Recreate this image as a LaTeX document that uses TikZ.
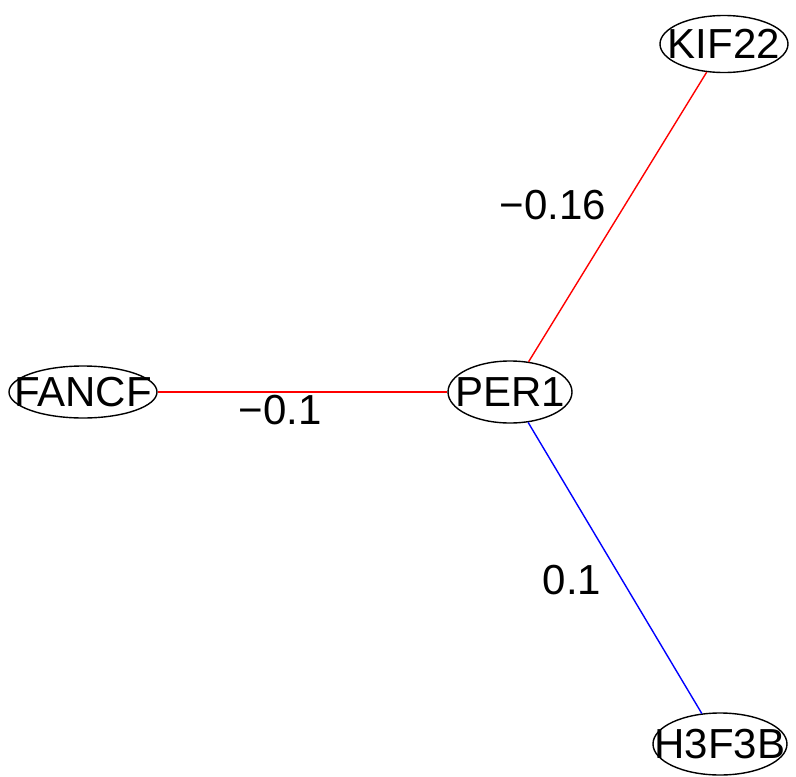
\documentclass[tikz,border=0pt]{standalone}
\usepackage{fontspec}
\setmainfont{Liberation Sans}
\usetikzlibrary{shapes.geometric}
\begin{document}
\begin{tikzpicture}[x=1pt,y=-1pt,
  gene/.style={draw,ellipse,line width=1.4pt,inner sep=0pt,minimum width=#1},
  lbl/.style={font=\fontsize{42}{42}\selectfont},
  negedge/.style={draw=red,line width=1.4pt},
  posedge/.style={draw=blue,line width=1.4pt}]
\useasboundingbox (0,0) rectangle (796,777);
\node[gene=124pt,minimum height=62pt] (per1) at (510,392) {};
\node[gene=148pt,minimum height=52pt] (fancf) at (83,392) {};
\node[gene=128pt,minimum height=57pt] (kif22) at (724,44) {};
\node[gene=134pt,minimum height=62pt] (h3f3b) at (720,744) {};
\node[lbl] at (per1) {PER1};
\node[lbl] at (fancf) {FANCF};
\node[lbl] at (kif22) {KIF22};
\node[lbl] at (h3f3b) {H3F3B};
\draw[negedge] (fancf) -- (per1);
\draw[negedge] (per1) -- (kif22);
\draw[posedge] (per1) -- (h3f3b);
\node[lbl] (l1) at (553,205) {−0.16};
\node[lbl] (l2) at (280,410) {−0.1};
\node[lbl] (l3) at (572,580) {0.1};
\end{tikzpicture}
\end{document}
